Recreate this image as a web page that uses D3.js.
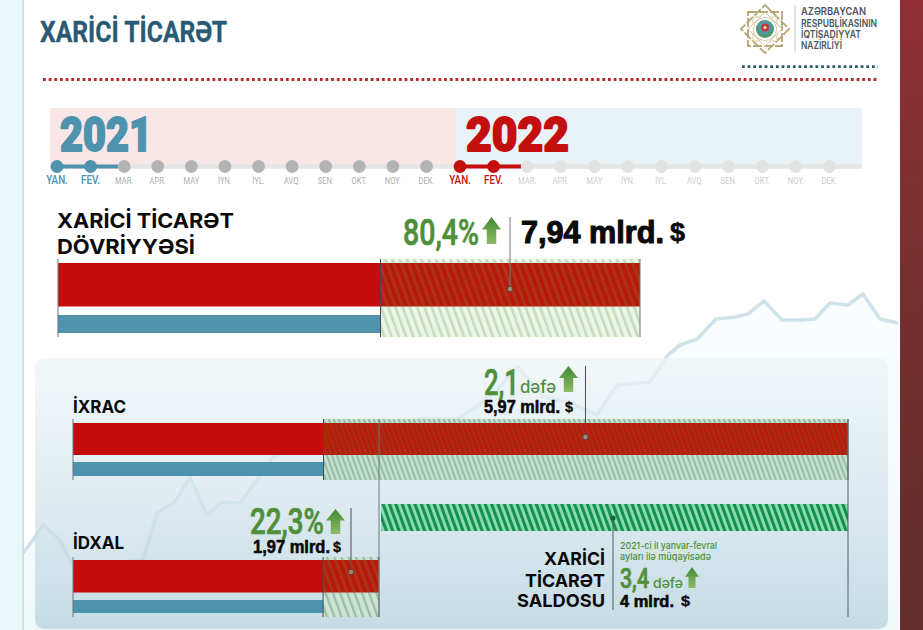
<!DOCTYPE html>
<html>
<head>
<meta charset="utf-8">
<title>Xarici ticarət</title>
<script src="https://cdn.jsdelivr.net/npm/d3@7/dist/d3.min.js"></script>
<style>
  html, body { margin: 0; padding: 0; background: #fff; }
  svg { display: block; }
</style>
</head>
<body>
<svg id="chart" width="923" height="630"></svg>
<script>
// Month labels for the period strip
const months = ["YAN.", "FEV.", "MAR.", "APR.", "MAY", "İYN.", "İYL.", "AVQ.", "SEN.", "OKT.", "NOY.", "DEK."];
const years = ["2021", "2022"];
const activeMonths = 2;

// Bar values, billion USD: January-February 2021, January-February 2022
const turnover = [4.40, 7.94];
const exportsValues = [1.93, 5.97];
const importsValues = [1.61, 1.97];
const balanceValues = [4];

// Decorative rising trend behind the page
const trendStep = [0, 10, 20, 37, 50, 120, 134, 152, 167, 184, 199, 217, 234, 250, 297, 357, 397, 420, 435, 467, 495, 520, 547, 574, 594, 627, 645, 657, 674, 693, 712, 725, 741, 759, 777, 792, 807, 825, 840, 857, 875];
const trendLevel = [77, 90, 105, 90, 63, 70, 117, 128, 153, 115, 128, 127, 150, 173, 190, 205, 211, 211, 211, 233, 263, 233, 227, 215, 245, 248, 275, 285, 291, 311, 313, 316, 329, 310, 310, 311, 327, 325, 336, 311, 307];

const logoLines = ["AZƏRBAYCAN", "RESPUBLİKASININ", "İQTİSADİYYAT", "NAZİRLİYİ"];
const logoWidths = [65, 76, 60, 41];

const C = {
  red: "#c50c0c", blue: "#4d93ae", green: "#4f8f3a", title: "#285a75",
  grey: "#b4b4b4", pale: "#e2e3e3", ink: "#0a0a0a"
};
const sans = "Roboto, 'Liberation Sans', sans-serif";
const heavy = "'Liberation Sans', Arial, sans-serif";
const wide = "Inter, 'Noto Sans', sans-serif";

const svg = d3.select("#chart");
const defs = svg.append("defs");

function vGradient(id, stops) {
  const g = defs.append("linearGradient").attr("id", id)
    .attr("x1", 0).attr("y1", 0).attr("x2", 0).attr("y2", 1);
  stops.forEach(([o, c]) => g.append("stop").attr("offset", o).attr("stop-color", c));
}
vGradient("sideBand", [[0, "#8f2e33"], [0.45, "#75302f"], [1, "#622d2c"]]);
vGradient("panelFill", [[0, "#edf4f7"], [0.5, "#d6e5ec"], [1, "#b5d0dd"]]);
vGradient("underTrend", [[0, "#f9fdfe"], [1, "#f1fafb"]]);
vGradient("arrowFill", [[0, "#3f8a33"], [1, "#8fbb66"]]);

function stripes(id, period, width, back, fore) {
  const p = defs.append("pattern").attr("id", id)
    .attr("patternUnits", "userSpaceOnUse")
    .attr("width", period).attr("height", period)
    .attr("patternTransform", "rotate(-20)");
  if (back) p.append("rect").attr("width", period).attr("height", period).attr("fill", back);
  p.append("rect").attr("width", width).attr("height", period).attr("fill", fore);
}
stripes("hatchWide", 6.8, 2.6, "#ecf6e8", "#c3dcb9");
stripes("hatchWideRed", 6.8, 2.6, "#b9190a", "#a9361d");
stripes("hatchFine", 4.7, 2, "#c6e0d0", "#93bda4");
stripes("hatchFineRed", 4.7, 2, "#bb1a0a", "#a5301a");
stripes("hatchImport", 6.8, 2.4, "#cfe4d6", "#98c0a6");
stripes("hatchBalance", 6, 3.1, "#8cdcb0", "#14904e");

// Generic text helper: a set width condenses the glyphs to fit it
function label(parent, x, y, str, o) {
  const t = parent.append("text").attr("x", x).attr("y", y).text(str)
    .attr("font-family", o.family || sans)
    .attr("font-size", o.size)
    .attr("font-weight", o.weight || 400)
    .attr("fill", o.fill || C.ink);
  if (o.width) t.attr("textLength", o.width).attr("lengthAdjust", "spacingAndGlyphs");
  if (o.bold) t.attr("stroke", o.fill || C.ink).attr("stroke-width", o.bold).attr("stroke-linejoin", "round");
  return t;
}

function arrow(parent, x0, x1, y0, y1) {
  const w = x1 - x0, mid = (x0 + x1) / 2, head = (y1 - y0) * 0.46, s = w * 0.25;
  const pts = [[mid, y0], [x1, y0 + head], [mid + s, y0 + head], [mid + s, y1],
               [mid - s, y1], [mid - s, y0 + head], [x0, y0 + head]];
  parent.append("path").attr("d", d3.line()(pts) + "Z").attr("fill", "url(#arrowFill)");
}

/* ---------- page background ---------- */
const bg = svg.append("g");
const trendX = d3.scaleLinear().domain([0, 900]).range([23, 923]);
const trendY = d3.scaleLinear().domain([0, 630]).range([630, 0]);
const trendPts = trendStep.map((s, i) => [s, trendLevel[i]]);

bg.append("path")
  .attr("d", d3.area().x(d => trendX(d[0])).y0(630).y1(d => trendY(d[1])).curve(d3.curveLinear)(trendPts))
  .attr("fill", "url(#underTrend)");
bg.append("path")
  .attr("d", d3.line().x(d => trendX(d[0])).y(d => trendY(d[1]))(trendPts))
  .attr("fill", "none").attr("stroke", "#cfe1e9").attr("stroke-width", 3.6).attr("stroke-linejoin", "round");

bg.append("rect").attr("x", 0).attr("y", 0).attr("width", 23).attr("height", 630).attr("fill", "#e8f7f9");
bg.append("rect").attr("x", 22.5).attr("y", 0).attr("width", 1.2).attr("height", 630).attr("fill", "#b4d4dc");
bg.append("rect").attr("x", 900).attr("y", 0).attr("width", 23).attr("height", 630).attr("fill", "url(#sideBand)");

// Panel lets the trend show through faintly
bg.append("rect").attr("x", 35).attr("y", 358).attr("width", 853).attr("height", 271).attr("rx", 9)
  .attr("fill", "url(#panelFill)").attr("fill-opacity", 0.72);

/* ---------- header ---------- */
const head = svg.append("g");
label(head, 40, 42, "XARİCİ TİCARƏT", { size: 29, weight: 700, fill: C.title, width: 187, bold: 0.3 });

const dotted = (x0, x1, y, color) => head.append("line")
  .attr("x1", x0).attr("x2", x1).attr("y1", y).attr("y2", y)
  .attr("stroke", color).attr("stroke-width", 2.8).attr("stroke-dasharray", "2.8 2.85");
dotted(43, 879, 79.5, "#b62a2d");
dotted(742, 878, 66.7, "#2f5a6a");

// Ministry emblem: eight-pointed star built from two rotated squares
const logo = head.append("g").attr("transform", "translate(765,29)");
[0, 45].forEach(a => logo.append("rect")
  .attr("x", -17).attr("y", -17).attr("width", 34).attr("height", 34)
  .attr("transform", `rotate(${a})`)
  .attr("fill", "none").attr("stroke", "#b5a673").attr("stroke-width", 1.8)
  .attr("stroke-dasharray", "9 2"));
[0, 45].forEach(a => logo.append("rect")
  .attr("x", -12).attr("y", -12).attr("width", 24).attr("height", 24)
  .attr("transform", `rotate(${a})`)
  .attr("fill", "#fff").attr("stroke", "#cfc49d").attr("stroke-width", 0.9));
logo.append("circle").attr("r", 11.5).attr("fill", "#fff").attr("stroke", "#c9bd93").attr("stroke-width", 0.8);
logo.append("circle").attr("r", 9).attr("fill", "#4c9a6a");
logo.append("circle").attr("cy", -1.4).attr("r", 7).attr("fill", "#5b93ad");
logo.append("circle").attr("cy", -1.4).attr("r", 4).attr("fill", "#c5363a");
logo.append("circle").attr("cy", -1.4).attr("r", 1.5).attr("fill", "#f0e2b0");
head.append("line").attr("x1", 795).attr("x2", 795).attr("y1", 5).attr("y2", 52)
  .attr("stroke", "#c4c4c4").attr("stroke-width", 1);
logoLines.forEach((t, i) => label(head, 801, [15, 26.5, 38, 49][i], t,
  { size: 10.5, weight: 600, fill: "#4a5660", family: wide, width: logoWidths[i] }));

/* ---------- period strip ---------- */
const strip = svg.append("g");
const bandX = d3.scaleBand().domain(years).range([50, 862]).paddingInner(0);
const bandFills = ["#f9e6e6", "#e9f2f6"];
years.forEach((y, i) => strip.append("rect")
  .attr("x", bandX(y)).attr("y", 108).attr("width", bandX.bandwidth()).attr("height", 57)
  .attr("fill", bandFills[i]));

strip.append("line").attr("x1", 50).attr("x2", 862).attr("y1", 166.5).attr("y2", 166.5)
  .attr("stroke", "#e5e6e6").attr("stroke-width", 4.5);

const yearColors = [C.blue, "#c40f0f"];
const restColors = [C.grey, C.pale];
const restText = ["#aeaeae", "#cdcdcd"];
const monthOrigins = [57, 460];
years.forEach((y, yi) => {
  const x = d3.scalePoint().domain(months).range([monthOrigins[yi], monthOrigins[yi] + 369.5]);
  const step = x.step();
  strip.append("line")
    .attr("x1", x(months[0])).attr("x2", x(months[activeMonths - 1]) + step * 0.82)
    .attr("y1", 166.5).attr("y2", 166.5)
    .attr("stroke", yearColors[yi]).attr("stroke-width", 4);
  months.forEach((m, mi) => {
    const on = mi < activeMonths;
    strip.append("circle").attr("cx", x(m)).attr("cy", 166.5).attr("r", 6.4)
      .attr("fill", on ? yearColors[yi] : restColors[yi]);
    const t = label(strip, x(m), 184, m, {
      size: on ? 12 : 9.2, weight: on ? 500 : 400,
      fill: on ? yearColors[yi] : restText[yi]
    }).attr("text-anchor", "middle");
    t.attr("textLength", t.node().getComputedTextLength() * 0.82)
     .attr("lengthAdjust", "spacingAndGlyphs");
  });
});
label(strip, 60, 151, years[0], { size: 49, weight: 900, fill: C.blue, width: 92, family: "Roboto", bold: 1.8 });
label(strip, 466, 151, years[1], { size: 49, weight: 900, fill: "#c40f0f", width: 103, family: "Roboto", bold: 1.8 });

/* ---------- comparison bars ---------- */
const bars = svg.append("g");

function barGroup(values, left, right, g) {
  const x = d3.scaleLinear().domain([0, values[1]]).range([left, right]);
  const x0 = x(0), xPrev = x(values[0]), xNow = x(values[1]);
  const layer = g.layer;

  // hatched increment running across both rows
  layer.append("rect").attr("x", xPrev).attr("y", g.top).attr("width", xNow - xPrev)
    .attr("height", g.bottom - g.top).attr("fill", `url(#${g.hatch})`);
  // current period, solid up to the previous value and hatched after it
  layer.append("rect").attr("x", x0).attr("y", g.redY).attr("width", xPrev - x0)
    .attr("height", g.redH).attr("fill", C.red);
  layer.append("rect").attr("x", xPrev).attr("y", g.redY).attr("width", xNow - xPrev)
    .attr("height", g.redH).attr("fill", `url(#${g.hatchRed})`);
  // previous period
  layer.append("rect").attr("x", x0).attr("y", g.blueY).attr("width", xPrev - x0)
    .attr("height", g.blueH).attr("fill", C.blue);

  const stop = (px, color) => layer.append("line").attr("x1", px).attr("x2", px)
    .attr("y1", g.top).attr("y2", g.bottom).attr("stroke", color).attr("stroke-width", 1);
  stop(x0, "#6d7478");
  stop(xPrev, "#3f4a4e");
  stop(xNow, "#70777a");
  return x;
}

function leader(parent, x, y0, y1, lineColor) {
  parent.append("line").attr("x1", x).attr("x2", x).attr("y1", y0).attr("y2", y1)
    .attr("stroke", lineColor || "#4e4e4e").attr("stroke-width", 1);
}
function dot(parent, x, y, fill) {
  parent.append("circle").attr("cx", x).attr("cy", y).attr("r", 2.7)
    .attr("fill", fill).attr("stroke", "#4a3a30").attr("stroke-width", 0.8);
}

// Turnover
barGroup(turnover, 58, 640, {
  layer: bars, top: 259, bottom: 337, redY: 263, redH: 43.5, blueY: 315, blueH: 18,
  hatch: "hatchWide", hatchRed: "hatchWideRed"
});
label(bars, 57, 228, "XARİCİ TİCARƏT", { size: 20.5, weight: 700, width: 177, family: wide });
label(bars, 57, 254, "DÖVRİYYƏSİ", { size: 20.5, weight: 700, width: 138, family: wide });
label(bars, 403, 245, "80,4%", { size: 37, weight: 500, fill: C.green, width: 76, bold: 0.7 });
arrow(bars, 482, 501, 217, 244);
leader(bars, 510, 217, 289, "#777");
dot(bars, 510, 289, "#9a8f80");
label(bars, 521, 243, d3.format(".2f")(turnover[1]).replace(".", ",") + " mlrd.",
  { size: 32, weight: 700, width: 143, family: heavy, bold: 1.1 });
label(bars, 670, 241, "$", { size: 25, weight: 700, width: 15, family: heavy, bold: 0.6 });

// Exports
barGroup(exportsValues, 73, 848, {
  layer: bars, top: 419, bottom: 480, redY: 423, redH: 32, blueY: 462, blueH: 14,
  hatch: "hatchFine", hatchRed: "hatchFineRed"
});
label(bars, 73, 412.5, "İXRAC", { size: 17.5, weight: 700, width: 53, family: wide });
label(bars, 484, 395, "2,1", { size: 37, weight: 500, fill: C.green, width: 35, bold: 0.7 });
label(bars, 520, 392.5, "dəfə", { size: 17, weight: 500, fill: C.green, width: 36, family: wide });
arrow(bars, 559, 578, 366, 392);
leader(bars, 585.5, 366, 437);
dot(bars, 585.5, 437, "#9a8f80");
label(bars, 484, 413, d3.format(".2f")(exportsValues[1]).replace(".", ",") + " mlrd.",
  { size: 18, weight: 700, width: 76, family: heavy, bold: 0.6 });
label(bars, 565, 412, "$", { size: 14, weight: 700, width: 8, family: heavy, bold: 0.3 });

// Imports
barGroup(importsValues, 73, 379, {
  layer: bars, top: 557, bottom: 617, redY: 560, redH: 32.5, blueY: 600, blueH: 13,
  hatch: "hatchImport", hatchRed: "hatchWideRed"
});
label(bars, 73, 549, "İDXAL", { size: 17.5, weight: 700, width: 51, family: wide });
label(bars, 250, 534, "22,3%", { size: 37, weight: 500, fill: C.green, width: 74, bold: 0.7 });
arrow(bars, 326, 345, 509, 534);
leader(bars, 351, 508, 572);
dot(bars, 351, 572, "#a8836a");
label(bars, 253, 553, d3.format(".2f")(importsValues[1]).replace(".", ",") + " mlrd.",
  { size: 18, weight: 700, width: 77, family: heavy, bold: 0.6 });
label(bars, 333, 552, "$", { size: 14, weight: 700, width: 8, family: heavy, bold: 0.3 });

// Trade balance: starts where imports stop, ends where exports stop
const balanceX = d3.scaleLinear().domain([0, balanceValues[0]]).range([381, 848]);
bars.append("rect").attr("x", balanceX(0)).attr("y", 504)
  .attr("width", balanceX(balanceValues[0]) - balanceX(0)).attr("height", 27)
  .attr("fill", "url(#hatchBalance)");

// Long guides tying the balance bar to the export and import ends
leader(bars, 379, 419, 617, "#6f777b");
leader(bars, 848, 419, 617, "#555d60");

leader(bars, 613, 518, 610, "#44605a");
bars.append("circle").attr("cx", 613).attr("cy", 518).attr("r", 2.6).attr("fill", "#14693c");

[["XARİCİ", 565, 61], ["TİCARƏT", 587, 80], ["SALDOSU", 607, 88]].forEach(([t, y, w]) =>
  label(bars, 605 - w, y, t, { size: 18, weight: 700, width: w, family: wide }));

label(bars, 620, 549, "2021-ci il yanvar-fevral", { size: 9.6, weight: 500, fill: C.green, width: 97, family: wide });
label(bars, 620, 560, "ayları ilə müqayisədə", { size: 9.6, weight: 500, fill: C.green, width: 91, family: wide });
label(bars, 620, 588, "3,4", { size: 28, weight: 500, fill: C.green, width: 29, bold: 0.7 });
label(bars, 653, 588, "dəfə", { size: 13, weight: 500, fill: C.green, width: 30, family: wide });
arrow(bars, 685, 699, 567, 588);
label(bars, 620, 607, balanceValues[0] + " mlrd.", { size: 17, weight: 700, width: 54, family: heavy, bold: 0.6 });
label(bars, 681, 606, "$", { size: 14, weight: 700, width: 9, family: heavy, bold: 0.3 });
</script>
</body>
</html>
